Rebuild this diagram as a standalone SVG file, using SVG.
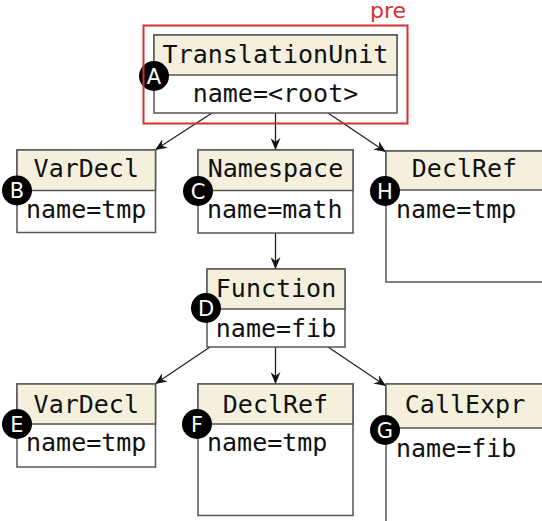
<svg xmlns="http://www.w3.org/2000/svg" width="542" height="521" viewBox="0 0 542 521">
<style>
.box{fill:#fff;stroke:#555;stroke-width:1.5}
.hdr{fill:#f4f0dd;stroke:#555;stroke-width:1.5}
.t{font-family:"DejaVu Sans Mono","Liberation Mono",monospace;font-size:25px;fill:#111}
.c{text-anchor:middle}
.bd{fill:#000}
.bl{font-family:"DejaVu Sans","Liberation Sans",sans-serif;font-size:21px;fill:#fff;text-anchor:middle}
.edge{stroke:#222;stroke-width:1.3;fill:none;marker-end:url(#ah)}
</style>
<defs>
<marker id="ah" viewBox="0 0 12 10" refX="12" refY="5" markerWidth="12" markerHeight="10" markerUnits="userSpaceOnUse" orient="auto">
<path d="M0,0 L12,5 L0,10 L4,5 z" fill="#111"/>
</marker>
</defs>
<rect width="542" height="521" fill="#fff"/>
<g id="connectors">
<line class="edge" x1="212" y1="113" x2="155" y2="150"/>
<line class="edge" x1="275.5" y1="113" x2="275.5" y2="150"/>
<line class="edge" x1="328" y1="113" x2="386" y2="152"/>
<line class="edge" x1="275.5" y1="233" x2="275.5" y2="269"/>
<line class="edge" x1="210" y1="347" x2="155" y2="384"/>
<line class="edge" x1="275.5" y1="347" x2="275.5" y2="384"/>
<line class="edge" x1="328" y1="347" x2="386" y2="386"/>
</g>
<g id="nodeA">
<rect class="box" x="154" y="35" width="243" height="78"/>
<rect class="hdr" x="154" y="35" width="243" height="40"/>
<text class="t c" x="275.5" y="63">TranslationUnit</text>
<text class="t c" x="275.5" y="102">name=&lt;root&gt;</text>
<circle class="bd" cx="154" cy="76" r="15"/>
<text class="bl" x="154" y="83.5">A</text>
</g>
<g id="nodeB">
<rect class="box" x="17" y="150" width="138.5" height="82.5"/>
<rect class="hdr" x="17" y="150" width="138.5" height="40.5"/>
<text class="t c" x="86.3" y="177">VarDecl</text>
<text class="t" x="26" y="218">name=tmp</text>
<circle class="bd" cx="17" cy="190.5" r="15"/>
<text class="bl" x="17" y="198">B</text>
</g>
<g id="nodeC">
<rect class="box" x="198" y="150" width="155" height="83"/>
<rect class="hdr" x="198" y="150" width="155" height="40.5"/>
<text class="t c" x="275.5" y="177">Namespace</text>
<text class="t" x="207" y="218">name=math</text>
<circle class="bd" cx="198" cy="191" r="15"/>
<text class="bl" x="198" y="198.5">C</text>
</g>
<g id="nodeH">
<rect class="box" x="386" y="151" width="157" height="131"/>
<rect class="hdr" x="386" y="151" width="157" height="39"/>
<text class="t c" x="464.5" y="177">DeclRef</text>
<text class="t" x="396" y="218">name=tmp</text>
<circle class="bd" cx="385" cy="191" r="15"/>
<text class="bl" x="385" y="198.5">H</text>
</g>
<g id="nodeD">
<rect class="box" x="207" y="269" width="138" height="78"/>
<rect class="hdr" x="207" y="269" width="138" height="40"/>
<text class="t c" x="276" y="297">Function</text>
<text class="t c" x="276" y="337">name=fib</text>
<circle class="bd" cx="206" cy="308" r="15"/>
<text class="bl" x="206" y="315.5">D</text>
</g>
<g id="nodeE">
<rect class="box" x="17" y="384" width="138.5" height="83"/>
<rect class="hdr" x="17" y="384" width="138.5" height="40"/>
<text class="t c" x="86.3" y="413">VarDecl</text>
<text class="t" x="26" y="451">name=tmp</text>
<circle class="bd" cx="17" cy="424" r="15"/>
<text class="bl" x="17" y="431.5">E</text>
</g>
<g id="nodeF">
<rect class="box" x="198" y="384" width="155" height="131.5"/>
<rect class="hdr" x="198" y="384" width="155" height="40"/>
<text class="t c" x="275.5" y="413">DeclRef</text>
<text class="t" x="207" y="451">name=tmp</text>
<circle class="bd" cx="197" cy="424" r="15"/>
<text class="bl" x="197" y="431.5">F</text>
</g>
<g id="nodeG">
<rect class="box" x="386" y="384" width="157" height="150"/>
<rect class="hdr" x="386" y="384" width="157" height="44"/>
<text class="t c" x="465" y="413">CallExpr</text>
<text class="t" x="396" y="457">name=fib</text>
<circle class="bd" cx="385" cy="430" r="15"/>
<text class="bl" x="385" y="437.5">G</text>
</g>
<g id="pre">
<rect x="143.5" y="25.5" width="264" height="98" fill="none" stroke="#d62f2f" stroke-width="2"/>
<text x="406" y="18" font-family="DejaVu Sans, Liberation Sans, sans-serif" font-size="22" fill="#d62f2f" text-anchor="end">pre</text>
</g>
</svg>
